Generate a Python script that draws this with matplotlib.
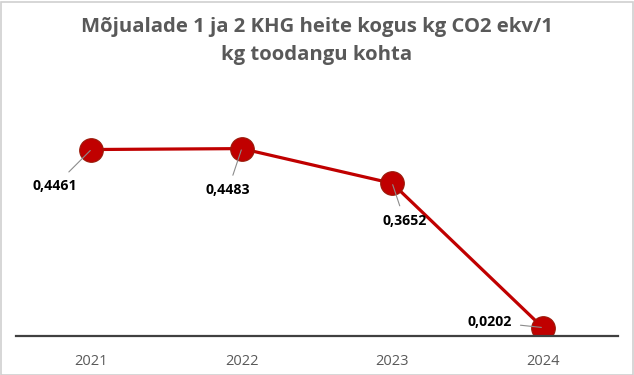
import matplotlib
matplotlib.use("Agg")
import matplotlib.pyplot as plt
from matplotlib.patches import Rectangle

years = ["2021", "2022", "2023", "2024"]
values = [0.4461, 0.4483, 0.3652, 0.0202]
value_labels = ["0,4461", "0,4483", "0,3652", "0,0202"]
# label offsets from the point, in points
label_offsets = [(-26, -26), (-10, -30), (9, -27), (-38, 4)]

TITLE = "Mõjualade 1 ja 2 KHG heite kogus kg CO2 ekv/1\nkg toodangu kohta"

plt.rcParams["font.family"] = ["Open Sans", "DejaVu Sans"]

fig = plt.figure(figsize=(6.34, 3.75), dpi=100)
ax = fig.add_axes([16 / 634, 1 - 336 / 375, (618 - 16) / 634, (336 - 127) / 375])

x = list(range(len(years)))
ax.plot(x, values, color="#C00000", lw=2.3, zorder=2,
        marker="o", markersize=17, markerfacecolor="#C00000",
        markeredgecolor="#9a1a0a", markeredgewidth=0.8)

for xi, v, lab, off in zip(x, values, value_labels, label_offsets):
    ax.annotate(lab, (xi, v), xytext=off, textcoords="offset points",
                ha="center", va="center", fontsize=10.2, fontweight="bold",
                color="black", zorder=4,
                arrowprops=dict(arrowstyle="-", color="#8c8c8c", lw=0.8,
                                shrinkA=4, shrinkB=1))

ax.set_xlim(-0.5, len(years) - 0.5)
ax.set_ylim(0, 0.5)
ax.set_xticks(x)
ax.set_xticklabels(years, color="#595959", fontsize=10.5)
ax.tick_params(axis="x", length=0, pad=13)
ax.set_yticks([])
for side in ["left", "right", "top"]:
    ax.spines[side].set_visible(False)
ax.spines["bottom"].set_color("#404040")
ax.spines["bottom"].set_linewidth(1.6)

fig.text(0.5, 1 - 41 / 375, TITLE, ha="center", va="center", fontsize=14.6,
         fontweight="bold", color="#595959", linespacing=1.5)

fig.patches.append(Rectangle((0.5 / 634, 0.5 / 375), 632 / 634, 373 / 375,
                             transform=fig.transFigure, fill=False,
                             edgecolor="#d0d0d0", lw=1.2))

fig.savefig("out.png", dpi=100)
plt.close(fig)
